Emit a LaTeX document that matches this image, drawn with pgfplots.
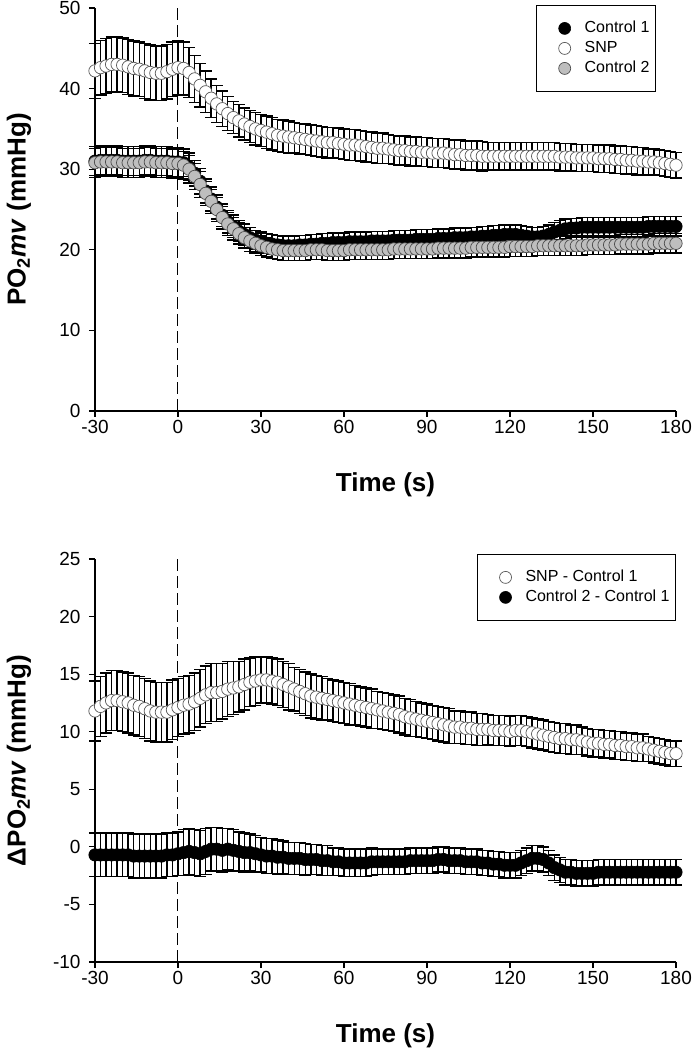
\documentclass[border=0pt]{standalone}
\usepackage{fontspec}
\setmainfont{Liberation Sans}
\usepackage{pgfplots}
\usepackage{pgfplotstable}
\pgfplotsset{compat=1.18}

\pgfplotstableread{
t c1 c1e snp snpe c2 c2e
-30 31.0 1.8 42.2 3.4 30.8 1.8
-28 31.1 1.8 42.6 3.4 30.9 1.8
-26 31.1 1.8 42.8 3.4 30.9 1.8
-24 31.1 1.8 43.0 3.4 30.9 1.8
-22 31.1 1.8 43.0 3.4 30.9 1.8
-20 31.0 1.8 42.9 3.4 30.8 1.8
-18 31.0 1.8 42.7 3.4 30.8 1.8
-16 31.0 1.8 42.5 3.4 30.8 1.8
-14 31.0 1.8 42.4 3.4 30.8 1.8
-12 31.1 1.8 42.2 3.4 30.9 1.8
-10 31.1 1.8 42.0 3.4 30.9 1.8
-8 31.0 1.8 41.9 3.4 30.8 1.8
-6 31.0 1.8 41.9 3.4 30.8 1.8
-4 31.0 1.8 42.1 3.4 30.8 1.8
-2 30.9 1.8 42.4 3.4 30.7 1.8
0 30.9 1.8 42.6 3.4 30.7 1.8
2 30.8 1.7 42.5 3.3 30.5 1.7
4 30.3 1.7 42.0 3.1 30.0 1.7
6 29.5 1.6 41.2 2.9 29.1 1.6
8 28.5 1.6 40.4 2.7 28.1 1.6
10 27.3 1.5 39.6 2.6 27.0 1.5
12 26.3 1.5 38.8 2.4 26.0 1.5
14 25.3 1.5 38.1 2.3 25.0 1.5
16 24.3 1.4 37.5 2.2 24.0 1.4
18 23.5 1.4 36.9 2.1 23.2 1.4
20 22.9 1.4 36.4 2.0 22.6 1.4
22 22.3 1.3 36.0 2.0 22.0 1.3
24 21.9 1.3 35.6 2.0 21.5 1.3
26 21.5 1.3 35.3 2.0 21.1 1.3
28 21.2 1.2 35.0 2.0 20.8 1.2
30 21.0 1.2 34.8 2.0 20.5 1.2
32 20.8 1.2 34.6 2.0 20.3 1.2
34 20.7 1.2 34.4 2.0 20.1 1.2
36 20.6 1.2 34.2 2.0 20.0 1.2
38 20.5 1.2 34.1 2.0 19.9 1.2
40 20.5 1.2 34.0 2.0 19.9 1.2
42 20.5 1.2 33.9 1.9 19.9 1.2
44 20.6 1.2 33.8 1.9 19.9 1.2
46 20.6 1.2 33.7 1.9 19.9 1.2
48 20.7 1.2 33.6 1.9 20.0 1.2
50 20.7 1.2 33.5 1.9 20.0 1.2
52 20.8 1.2 33.4 1.9 20.0 1.2
54 20.8 1.2 33.3 1.9 19.9 1.2
56 20.9 1.2 33.3 1.9 19.9 1.2
58 20.9 1.2 33.2 1.9 19.9 1.2
60 20.9 1.2 33.1 1.9 19.9 1.2
62 21.0 1.2 33.0 1.9 20.0 1.2
64 21.0 1.2 33.0 1.9 20.0 1.2
66 21.0 1.2 32.9 1.9 20.0 1.2
68 21.0 1.2 32.8 1.9 20.0 1.2
70 21.1 1.2 32.7 1.9 20.0 1.2
72 21.1 1.2 32.6 1.9 20.0 1.2
74 21.1 1.2 32.6 1.9 20.0 1.2
76 21.1 1.2 32.5 1.8 20.0 1.2
78 21.2 1.2 32.4 1.8 20.1 1.2
80 21.2 1.2 32.3 1.8 20.1 1.2
82 21.2 1.2 32.3 1.8 20.1 1.2
84 21.2 1.2 32.2 1.8 20.1 1.2
86 21.3 1.2 32.2 1.8 20.1 1.2
88 21.3 1.2 32.1 1.8 20.1 1.2
90 21.3 1.2 32.1 1.8 20.1 1.2
92 21.3 1.2 32.0 1.8 20.1 1.2
94 21.4 1.2 32.0 1.8 20.2 1.2
96 21.4 1.2 32.0 1.8 20.2 1.2
98 21.4 1.2 31.9 1.8 20.2 1.2
100 21.5 1.2 31.8 1.8 20.2 1.2
102 21.5 1.2 31.8 1.8 20.2 1.2
104 21.5 1.2 31.7 1.8 20.2 1.2
106 21.6 1.2 31.7 1.8 20.3 1.2
108 21.6 1.2 31.7 1.8 20.3 1.2
110 21.7 1.2 31.6 1.8 20.3 1.2
112 21.7 1.2 31.6 1.7 20.3 1.2
114 21.8 1.2 31.6 1.7 20.3 1.2
116 21.8 1.2 31.6 1.7 20.3 1.2
118 21.9 1.2 31.6 1.7 20.3 1.2
120 21.9 1.2 31.6 1.7 20.4 1.2
122 21.9 1.2 31.6 1.7 20.4 1.2
124 21.8 1.2 31.6 1.7 20.4 1.2
126 21.7 1.2 31.6 1.7 20.4 1.2
128 21.6 1.2 31.6 1.7 20.4 1.2
130 21.6 1.2 31.6 1.7 20.5 1.2
132 21.7 1.2 31.6 1.7 20.5 1.2
134 21.9 1.2 31.6 1.7 20.5 1.2
136 22.2 1.2 31.6 1.7 20.5 1.2
138 22.4 1.2 31.5 1.7 20.5 1.2
140 22.6 1.2 31.5 1.7 20.5 1.2
142 22.7 1.2 31.5 1.7 20.5 1.2
144 22.7 1.2 31.4 1.7 20.5 1.2
146 22.8 1.2 31.4 1.7 20.5 1.2
148 22.8 1.2 31.4 1.7 20.6 1.2
150 22.8 1.2 31.4 1.7 20.6 1.2
152 22.8 1.2 31.3 1.7 20.6 1.2
154 22.8 1.2 31.3 1.7 20.6 1.2
156 22.8 1.2 31.3 1.7 20.6 1.2
158 22.8 1.2 31.2 1.7 20.6 1.2
160 22.8 1.2 31.2 1.7 20.7 1.2
162 22.8 1.2 31.1 1.7 20.7 1.2
164 22.8 1.2 31.1 1.7 20.7 1.2
166 22.8 1.2 31.0 1.7 20.7 1.2
168 22.8 1.2 31.0 1.7 20.7 1.2
170 22.9 1.2 30.9 1.6 20.7 1.2
172 22.9 1.2 30.9 1.6 20.8 1.2
174 22.9 1.2 30.8 1.6 20.8 1.2
176 22.9 1.2 30.7 1.6 20.8 1.2
178 22.9 1.2 30.6 1.6 20.8 1.2
180 22.9 1.2 30.5 1.6 20.8 1.2
}\toptab

\pgfplotstableread{
t d1 d1e d2 d2e
-30 11.8 2.6 -0.7 1.9
-28 12.2 2.6 -0.7 1.9
-26 12.5 2.6 -0.7 1.9
-24 12.7 2.6 -0.7 1.9
-22 12.7 2.6 -0.7 1.9
-20 12.6 2.6 -0.7 1.9
-18 12.5 2.6 -0.7 1.9
-16 12.3 2.6 -0.8 1.9
-14 12.2 2.6 -0.8 1.9
-12 12.0 2.6 -0.8 1.9
-10 11.8 2.6 -0.8 1.9
-8 11.7 2.6 -0.8 1.9
-6 11.7 2.6 -0.8 1.9
-4 11.7 2.6 -0.7 1.9
-2 11.9 2.6 -0.7 1.9
0 12.1 2.5 -0.6 1.9
2 12.3 2.5 -0.5 2.0
4 12.4 2.5 -0.4 2.0
6 12.6 2.5 -0.5 2.0
8 12.9 2.5 -0.6 2.0
10 13.2 2.5 -0.4 2.0
12 13.4 2.5 -0.2 1.9
14 13.4 2.5 -0.2 1.9
16 13.5 2.4 -0.3 1.9
18 13.7 2.4 -0.2 1.8
20 13.8 2.3 -0.3 1.8
22 13.9 2.2 -0.4 1.7
24 14.1 2.2 -0.5 1.7
26 14.3 2.1 -0.5 1.6
28 14.4 2.1 -0.6 1.6
30 14.5 2.0 -0.7 1.5
32 14.5 2.0 -0.8 1.5
34 14.4 2.0 -0.8 1.5
36 14.3 2.0 -0.9 1.5
38 14.1 2.0 -0.9 1.4
40 13.9 2.0 -1.0 1.4
42 13.7 1.9 -1.0 1.4
44 13.5 1.9 -1.0 1.4
46 13.3 1.9 -1.1 1.4
48 13.1 1.9 -1.1 1.3
50 13.0 1.9 -1.1 1.3
52 12.9 1.9 -1.2 1.3
54 12.8 1.8 -1.2 1.3
56 12.7 1.8 -1.3 1.2
58 12.6 1.8 -1.3 1.2
60 12.5 1.8 -1.4 1.2
62 12.4 1.8 -1.4 1.2
64 12.3 1.7 -1.4 1.2
66 12.2 1.7 -1.4 1.2
68 12.1 1.7 -1.4 1.2
70 12.0 1.7 -1.3 1.2
72 11.9 1.6 -1.3 1.1
74 11.8 1.6 -1.3 1.1
76 11.7 1.6 -1.3 1.1
78 11.6 1.6 -1.3 1.1
80 11.5 1.6 -1.3 1.1
82 11.3 1.6 -1.3 1.1
84 11.2 1.6 -1.2 1.1
86 11.1 1.5 -1.2 1.1
88 11.0 1.5 -1.2 1.1
90 10.9 1.5 -1.2 1.1
92 10.8 1.5 -1.2 1.1
94 10.7 1.5 -1.1 1.1
96 10.6 1.5 -1.1 1.1
98 10.5 1.5 -1.2 1.1
100 10.4 1.4 -1.2 1.1
102 10.4 1.4 -1.2 1.1
104 10.3 1.4 -1.3 1.1
106 10.3 1.4 -1.3 1.1
108 10.2 1.4 -1.3 1.1
110 10.2 1.4 -1.4 1.1
112 10.2 1.3 -1.4 1.1
114 10.1 1.3 -1.5 1.1
116 10.1 1.3 -1.5 1.1
118 10.1 1.3 -1.6 1.1
120 10.0 1.3 -1.6 1.1
122 10.1 1.3 -1.6 1.1
124 10.1 1.3 -1.4 1.1
126 10.0 1.3 -1.2 1.1
128 9.9 1.3 -1.0 1.1
130 9.8 1.3 -1.0 1.1
132 9.7 1.3 -1.1 1.1
134 9.6 1.3 -1.4 1.1
136 9.5 1.3 -1.8 1.1
138 9.4 1.3 -2.0 1.1
140 9.4 1.3 -2.2 1.1
142 9.3 1.3 -2.2 1.1
144 9.3 1.3 -2.3 1.1
146 9.2 1.2 -2.3 1.1
148 9.1 1.2 -2.3 1.1
150 9.0 1.2 -2.3 1.1
152 9.0 1.2 -2.2 1.1
154 8.9 1.2 -2.2 1.1
156 8.9 1.2 -2.2 1.1
158 8.8 1.2 -2.2 1.1
160 8.8 1.2 -2.2 1.1
162 8.7 1.2 -2.2 1.1
164 8.7 1.2 -2.2 1.1
166 8.6 1.2 -2.2 1.1
168 8.6 1.2 -2.2 1.1
170 8.5 1.1 -2.2 1.1
172 8.4 1.1 -2.2 1.1
174 8.3 1.1 -2.2 1.1
176 8.2 1.1 -2.2 1.1
178 8.1 1.1 -2.2 1.1
180 8.1 1.1 -2.2 1.1
}\bottab

\definecolor{markgray}{RGB}{190,190,190}

\pgfplotsset{
  myaxis/.style={
    scale only axis, width=581pt, height=403pt,
    xmin=-30, xmax=180, xtick={-30,0,30,60,90,120,150,180},
    axis x line*=bottom, axis y line*=left,
    tick align=outside, major tick length=6pt,
    axis line style={line width=1.1pt, black, -},
    every tick/.style={line width=1.1pt, black},
    /pgf/number format/assume math mode=true,
    ticklabel style={font=\fontsize{19}{23}\selectfont, black},
    yticklabel style={xshift=-5pt},
    every axis x label/.style={at={(axis description cs:0.5,-0.183)}, anchor=center},
    every axis y label/.style={at={(axis description cs:-0.1308,0.5)}, rotate=90, anchor=center},
    label style={font=\fontsize{26}{30}\selectfont\bfseries},
    xlabel={Time (s)},
    clip=false,
    legend style={draw=black, line width=0.8pt, font=\fontsize{16}{19}\selectfont,
      inner xsep=4pt, inner ysep=13pt, nodes={inner sep=2pt, text height=12pt, text depth=4pt}},
    legend cell align=left,
  },
  errs/.style={error bars/.cd, y dir=both, y explicit,
    error mark=-,
    error bar style={draw=black, line width=1.4pt},
    error mark options={rotate=90, draw=black, line width=1.4pt, mark size=6pt}},
  legimg/.style={legend image code/.code={
    \path[draw=none, fill=none] (0pt,0pt) -- (42pt,0pt);
    \path[##1, draw=none, mark size=6pt, mark repeat=2, mark phase=2] plot[only marks] coordinates {(0pt,0pt) (24pt,0pt) (36pt,0pt)};}},
  blackm/.style={only marks, mark=*, mark size=6.2pt, mark options={fill=black, draw=black, line width=0.6pt}, legimg},
  whitem/.style={only marks, mark=*, mark size=6.2pt, mark options={fill=white, draw=black!65, line width=0.7pt}, legimg},
  graym/.style={only marks, mark=*, mark size=6.2pt, mark options={fill=markgray, draw=black!70, line width=0.7pt}, legimg},
}

\begin{document}
\begin{tikzpicture}
% top panel
\begin{axis}[myaxis, at={(0pt,551pt)},
  ymin=0, ymax=50, ytick={0,10,20,30,40,50},
  ylabel={PO\textsubscript{2}\textit{mv} (mmHg)},
  legend style={at={(rel axis cs:0.9656,1.0074)}, anchor=north east}]
\addplot[blackm, errs] table[x=t, y=c1, y error=c1e] {\toptab};
\addlegendentry{Control 1}
\addplot[whitem, errs] table[x=t, y=snp, y error=snpe] {\toptab};
\addlegendentry{SNP}
\addplot[graym, errs] table[x=t, y=c2, y error=c2e] {\toptab};
\addlegendentry{Control 2}
\draw[black, line width=1pt, dash pattern=on 12pt off 5pt] (axis cs:0,0) -- (axis cs:0,50);
\end{axis}
% bottom panel
\begin{axis}[myaxis, at={(0pt,0pt)},
  ymin=-10, ymax=25, ytick={-10,-5,0,5,10,15,20,25},
  ylabel={ΔPO\textsubscript{2}\textit{mv} (mmHg)},
  legend style={at={(rel axis cs:1,1.0124)}, anchor=north east}]
\addplot[whitem, errs] table[x=t, y=d1, y error=d1e] {\bottab};
\addlegendentry{SNP - Control 1}
\addplot[blackm, errs] table[x=t, y=d2, y error=d2e] {\bottab};
\addlegendentry{Control 2 - Control 1}
\draw[black, line width=1pt, dash pattern=on 12pt off 5pt] (axis cs:0,-10) -- (axis cs:0,25);
\end{axis}
\pgfresetboundingbox
\useasboundingbox (-95pt,-88pt) rectangle (597pt,962pt);
\end{tikzpicture}
\end{document}
